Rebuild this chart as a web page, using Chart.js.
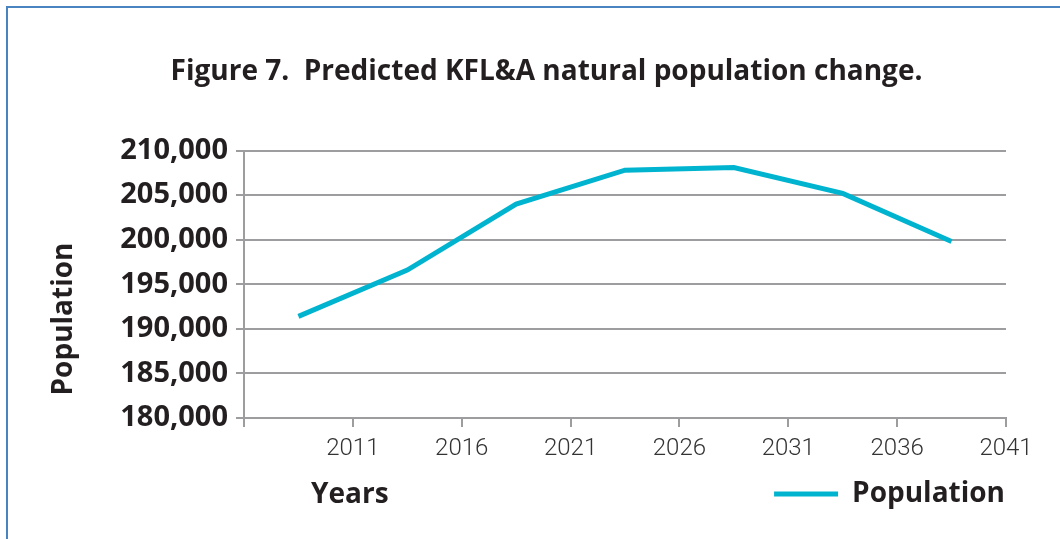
<!DOCTYPE html>
<html>
<head>
<meta charset="utf-8">
<script src="https://cdn.jsdelivr.net/npm/chart.js@4.4.1/dist/chart.umd.min.js"></script>
<style>
    html, body { margin: 0; padding: 0; background: #ffffff; }
    #wrap { position: relative; width: 1060px; height: 539px; overflow: hidden; }
    #frame { position: absolute; left: 6px; top: 6px; width: 1100px; height: 600px;
             border-top: 2px solid #4a84c0; border-left: 2px solid #4a84c0; }
    #chart { position: absolute; left: 0; top: 0; }
</style>
</head>
<body>
<div id="wrap">
    <div id="frame"></div>
    <canvas id="chart" width="1060" height="539"></canvas>
</div>
<script>
// data
var periods = [2008.5, 2013.5, 2018.5, 2023.5, 2028.5, 2033.5, 2038.5];
var population = [191400, 196600, 204000, 207800, 208100, 205200, 199800];
var yearTicks = [2006, 2011, 2016, 2021, 2026, 2031, 2036, 2041];
var yearLabels = ['', '2011', '2016', '2021', '2026', '2031', '2036', '2041'];

var textColor = '#231f20';
var gridColor = '#9d9d9f';
var lineColor = '#00b4d0';

var points = periods.map(function (p, i) { return { x: p, y: population[i] }; });

// axis titles sit off-centre in the original, so draw them here
var axisTitles = {
    id: 'axisTitles',
    afterDraw: function (chart) {
        var c = chart.ctx;
        var area = chart.chartArea;
        c.save();
        c.font = 'bold 28px "Open Sans"';
        c.fillStyle = textColor;
        c.textBaseline = 'alphabetic';
        c.textAlign = 'left';
        c.fillText('Years', area.left + 67, 503);
        c.translate(72, 319);
        c.rotate(-Math.PI / 2);
        c.textAlign = 'center';
        c.fillText('Population', 0, 0);
        c.restore();
    }
};

var ctx = document.getElementById('chart');
var popChart = new Chart(ctx, {
    type: 'line',
    data: {
        datasets: [{
            label: 'Population',
            data: points,
            borderColor: lineColor,
            backgroundColor: lineColor,
            borderWidth: 5,
            pointRadius: 0,
            tension: 0
        }]
    },
    options: {
        responsive: false,
        animation: false,
        layout: { padding: { left: 87, right: 54, top: 0, bottom: 21 } },
        plugins: {
            title: {
                display: true,
                text: 'Figure 7.  Predicted KFL&A natural population change.',
                color: textColor,
                font: { family: 'Open Sans', size: 28, weight: 'bold' },
                padding: { top: 55, bottom: 62 }
            },
            legend: {
                position: 'bottom',
                align: 'end',
                labels: {
                    color: textColor,
                    font: { family: 'Open Sans', size: 28, weight: 'bold' },
                    boxWidth: 64,
                    boxHeight: 5,
                    padding: 1,
                    generateLabels: function (chart) {
                        var items = Chart.defaults.plugins.legend.labels.generateLabels(chart);
                        items.forEach(function (it) { it.lineWidth = 0; });
                        return items;
                    }
                }
            },
            tooltip: { enabled: false }
        },
        scales: {
            x: {
                type: 'linear',
                min: 2006,
                max: 2041,
                afterBuildTicks: function (axis) {
                    axis.ticks = yearTicks.map(function (v) { return { value: v }; });
                },
                afterFit: function (axis) { axis.height = 61; },
                ticks: {
                    color: '#333333',
                    font: { family: 'Roboto', size: 24, weight: 300 },
                    padding: 8,
                    maxRotation: 0,
                    autoSkip: false,
                    callback: function (value) {
                        var i = yearTicks.indexOf(value);
                        return i >= 0 ? yearLabels[i] : '';
                    }
                },
                grid: {
                    drawOnChartArea: false,
                    color: gridColor,
                    lineWidth: 2,
                    tickLength: 9
                },
                border: { color: gridColor, width: 2 }
            },
            y: {
                min: 180000,
                max: 210000,
                afterFit: function (axis) { axis.width = 157; },
                ticks: {
                    stepSize: 5000,
                    color: textColor,
                    font: { family: 'Open Sans', size: 29, weight: 'bold' },
                    padding: 8,
                    callback: function (value) { return value.toLocaleString('en-US'); }
                },
                grid: {
                    color: gridColor,
                    lineWidth: 2,
                    tickLength: 8
                },
                border: { color: gridColor, width: 2 }
            }
        }
    },
    plugins: [axisTitles]
});
</script>
</body>
</html>
